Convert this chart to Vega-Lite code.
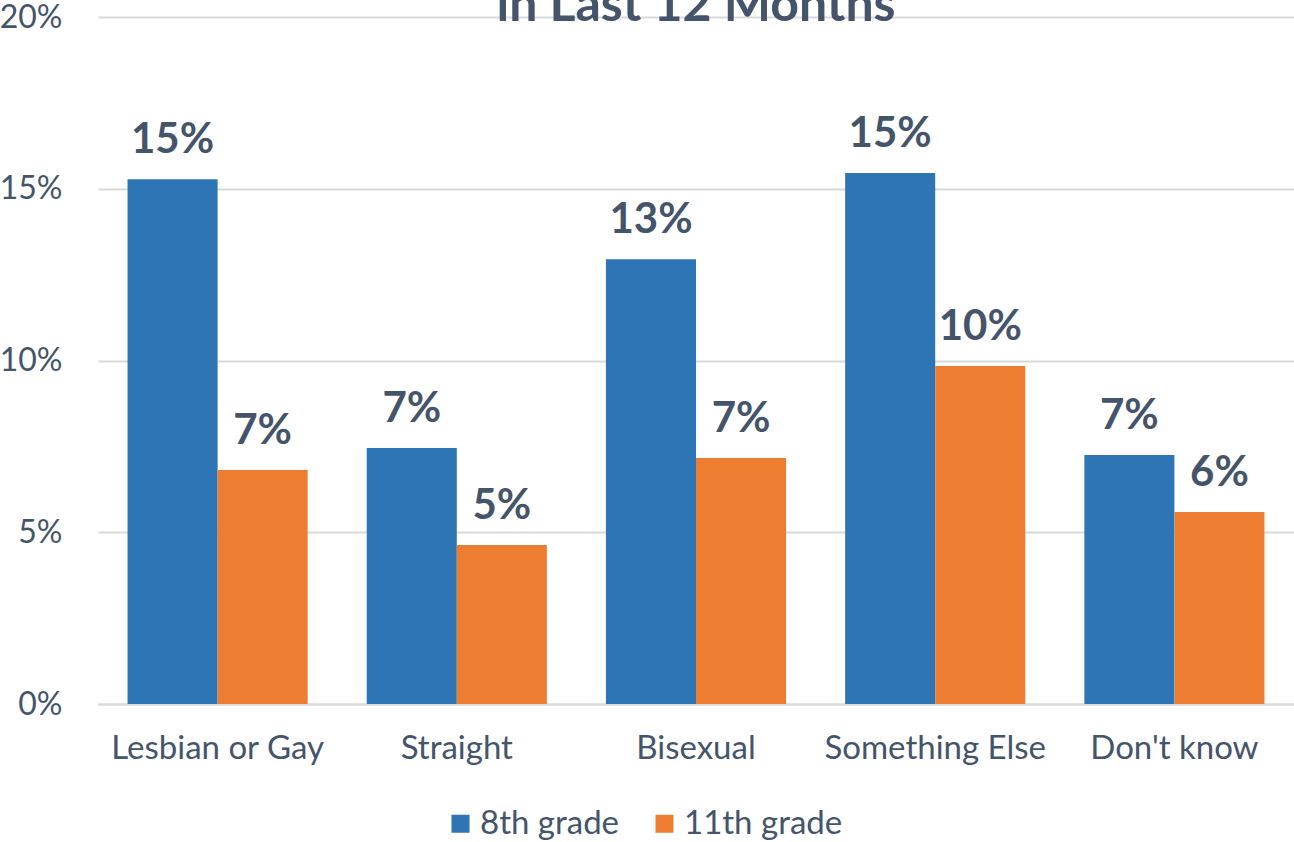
{
  "$schema": "https://vega.github.io/schema/vega-lite/v6.json",
  "width": 1196,
  "height": 687,
  "autosize": "none",
  "padding": {"left": 98, "top": 17, "right": 0, "bottom": 138},
  "background": "white",
  "title": {
    "text": "in Last 12 Months",
    "font": "Lato",
    "fontSize": 50,
    "fontWeight": "bold",
    "color": "#44546A",
    "anchor": "middle",
    "baseline": "top",
    "offset": -30
  },
  "data": {
    "values": [
      {"category": "Lesbian or Gay", "grade": "8th grade", "value": 0.1528},
      {"category": "Lesbian or Gay", "grade": "11th grade", "value": 0.0681},
      {"category": "Straight", "grade": "8th grade", "value": 0.0745},
      {"category": "Straight", "grade": "11th grade", "value": 0.0463},
      {"category": "Bisexual", "grade": "8th grade", "value": 0.1295},
      {"category": "Bisexual", "grade": "11th grade", "value": 0.0716},
      {"category": "Something Else", "grade": "8th grade", "value": 0.1546},
      {"category": "Something Else", "grade": "11th grade", "value": 0.0984},
      {"category": "Don't know", "grade": "8th grade", "value": 0.0725},
      {"category": "Don't know", "grade": "11th grade", "value": 0.0559}
    ]
  },
  "encoding": {
    "x": {
      "field": "category",
      "type": "nominal",
      "sort": null,
      "title": null,
      "scale": {"paddingInner": 0.247, "paddingOuter": 0.1235},
      "axis": {
        "labelAngle": 0,
        "labelFont": "Lato",
        "labelFontSize": 33,
        "labelColor": "#44546A",
        "labelPadding": 28,
        "labelLimit": 400,
        "ticks": false,
        "domainColor": "#D9D9D9",
        "domainWidth": 2,
        "grid": false
      }
    },
    "xOffset": {
      "field": "grade",
      "type": "nominal",
      "sort": ["8th grade", "11th grade"],
      "scale": {"paddingInner": 0, "paddingOuter": 0}
    },
    "y": {
      "field": "value",
      "type": "quantitative",
      "title": null,
      "scale": {"domain": [0, 0.2], "nice": false},
      "axis": {
        "values": [0, 0.05, 0.1, 0.15, 0.2],
        "format": ".0%",
        "labelFont": "Lato",
        "labelFontSize": 32,
        "labelColor": "#44546A",
        "labelPadding": 36,
        "ticks": false,
        "domain": false,
        "gridColor": "#D9D9D9",
        "gridWidth": 2
      }
    }
  },
  "layer": [
    {
      "mark": {"type": "bar"},
      "encoding": {
        "color": {
          "field": "grade",
          "type": "nominal",
          "sort": ["8th grade", "11th grade"],
          "scale": {"domain": ["8th grade", "11th grade"], "range": ["#2E75B6", "#ED7D31"]},
          "legend": {
            "title": null,
            "orient": "none",
            "legendX": 346,
            "legendY": 790,
            "padding": 0,
            "direction": "horizontal",
            "symbolType": "square",
            "symbolSize": 324,
            "symbolStrokeWidth": 0,
            "labelFont": "Lato",
            "labelFontSize": 33,
            "labelColor": "#44546A",
            "columnPadding": 28,
            "labelOffset": 3
          }
        }
      }
    },
    {
      "mark": {
        "type": "text",
        "font": "Lato",
        "fontSize": 42,
        "fontWeight": "bold",
        "color": "#44546A",
        "baseline": "alphabetic",
        "dy": -26
      },
      "encoding": {
        "text": {"field": "value", "type": "quantitative", "format": ".0%"}
      }
    }
  ],
  "config": {"view": {"stroke": null}}
}
